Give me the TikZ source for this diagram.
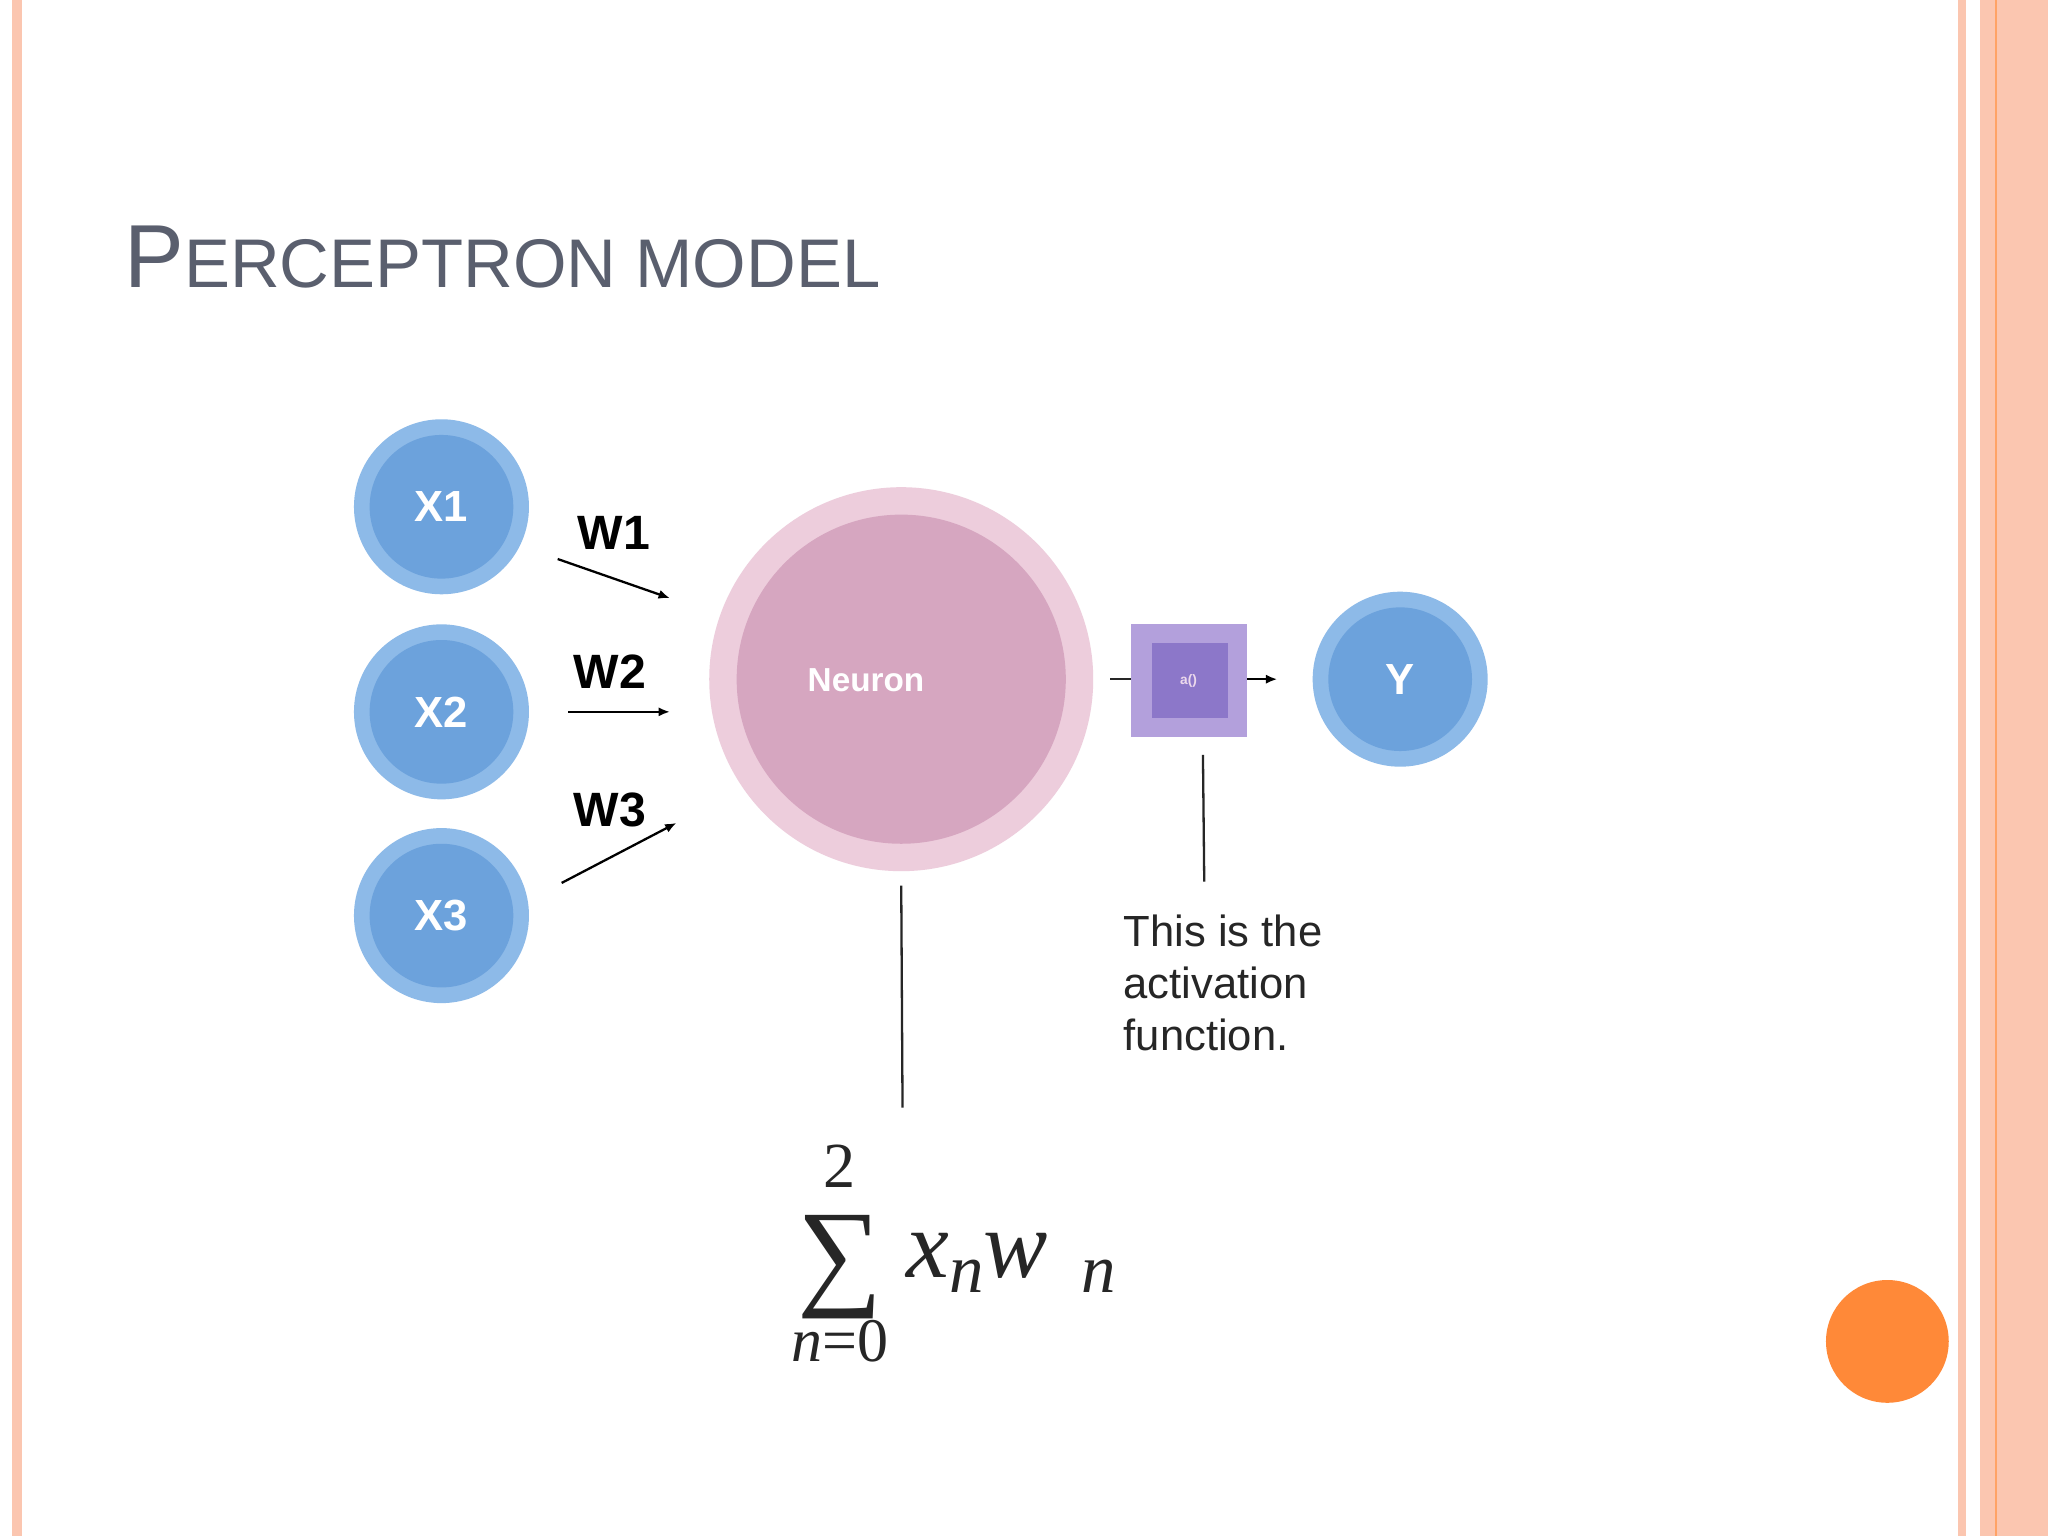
\documentclass[tikz,border=0pt]{standalone}
\usepackage{fontspec}
\usetikzlibrary{arrows.meta}
\setmainfont{Liberation Sans}
\newfontfamily\serifF{Liberation Serif}
\begin{document}
\begin{tikzpicture}[x=0.02cm,y=-0.02cm,
  inpt/.style={circle,fill=blueOut,minimum size=134*0.02cm,inner sep=0pt},
  lbl/.style={font=\fontsize{21}{24}\selectfont\bfseries},
  arr/.style={-{Latex[length=5pt,width=4pt]},line width=1pt},
  ln/.style={line width=1pt,draw=black!85}]
\definecolor{blueOut}{HTML}{8DBAE8}
\definecolor{blueIn}{HTML}{6CA2DC}
\definecolor{pinkOut}{HTML}{EDCDDC}
\definecolor{pinkIn}{HTML}{D6A6C0}
\definecolor{peach}{HTML}{FBC6B0}
\definecolor{titlegray}{HTML}{5A5F6E}
\useasboundingbox (0,0) rectangle (1568,1176);
\fill[white] (0,0) rectangle (1568,1176);
% borders
\fill[peach] (9,0) rectangle (17,1176);
\fill[peach] (1499,0) rectangle (1505,1176);
\fill[peach] (1516,0) rectangle (1568,1176);
\draw[orange!80!red!60,line width=1pt] (1528,0) -- (1528,1176);
% title
\node[anchor=base west,text=titlegray,inner sep=0pt] (title) at (95,220)
  {\fontsize{39}{42}\selectfont P\fontsize{30}{34}\selectfont ERCEPTRON MODEL};
% inputs
\foreach \n/\y in {1/388,2/545,3/701}{
  \node[inpt] (x\n) at (338,\y) {};
  \fill[blueIn] (x\n.center) circle (55);
  \node[text=white,font=\fontsize{19}{22}\selectfont\bfseries] at (x\n.center) {X\n};
}
\node[inpt] (y) at (1072,520) {};
\fill[blueIn] (y.center) circle (55);
\node[text=white,font=\fontsize{19}{22}\selectfont\bfseries] at (y.center) {Y};
% neuron
\node[circle,fill=pinkOut,minimum size=294*0.02cm,inner sep=0pt] (neu) at (690,520) {};
\fill[pinkIn] (neu.center) circle (126);
\node[text=white,font=\fontsize{14.5}{17}\selectfont\bfseries] (neutxt) at (663,521) {Neuron};
% weights
\coordinate (a1) at (427,428); \coordinate (b1) at (513,458);
\coordinate (a2) at (435,545); \coordinate (b2) at (513,545);
\coordinate (a3) at (430,676); \coordinate (b3) at (518,630);
\draw[arr] (a1) -- (b1);
\draw[arr] (a2) -- (b2);
\draw[arr] (a3) -- (b3);
\node[lbl] (w1) at (470,408) {W1};
\node[lbl] (w2) at (467,514) {W2};
\node[lbl] (w3) at (467,620) {W3};
% activation
\fill[fill={rgb,255:red,179;green,160;blue,220}] (866,478) rectangle (955,564);
\fill[fill={rgb,255:red,140;green,119;blue,201}] (882,492) rectangle (940,550);
\node[text=white!85!violet,font=\fontsize{6}{7}\selectfont\bfseries] (act) at (910,521) {a()};
\coordinate (l0) at (850,520); \coordinate (l1) at (866,520);
\coordinate (r0) at (955,520); \coordinate (r1) at (978,520);
\draw[ln] (l0) -- (l1);
\draw[arr] (r0) -- (r1);
\coordinate (v0) at (921,578); \coordinate (v1) at (922,675);
\draw[ln] (v0) -- (v1);
\coordinate (n0) at (690,678); \coordinate (n1) at (691,848);
\draw[ln] (n0) -- (n1);
\node[anchor=north west,align=left,inner sep=0pt,text=black!85,font=\fontsize{19}{22.7}\selectfont] (note) at (860,700)
  {This is the\\activation\\function.};
% formula
\node[font=\serifF\fontsize{28}{28}\selectfont,text=black!85] (two) at (643,893) {2};
\node[font=\serifF\fontsize{52}{52}\selectfont,text=black!85] (sig) at (643,970) {∑};
\node[font=\serifF\fontsize{27}{27}\selectfont\itshape,text=black!85] (n0l) at (643,1027) {n\upshape=0};
\node[font=\serifF\fontsize{42}{42}\selectfont\itshape,text=black!85,anchor=base west] (xw) at (688,978)
  {x\raisebox{-0.35ex}{\fontsize{30}{30}\selectfont n}w\hspace{0.35em}\raisebox{-0.35ex}{\fontsize{30}{30}\selectfont n}};
% orange dot
\fill[fill={rgb,255:red,255;green,137;blue,56}] (1445,1027) circle (47);
\end{tikzpicture}
\end{document}
